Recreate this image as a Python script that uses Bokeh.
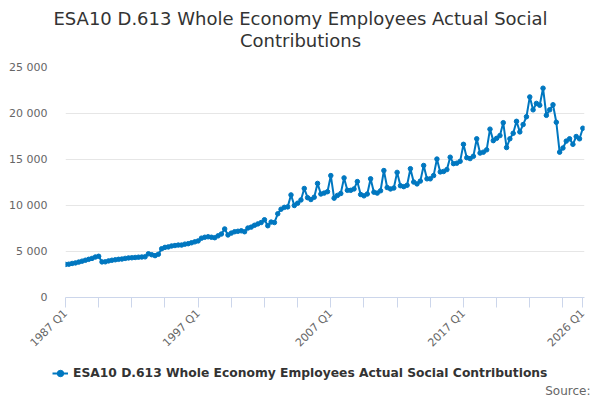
import math
from bokeh.plotting import figure
from bokeh.layouts import column
from bokeh.models import Range1d, FixedTicker, Label, Legend, LegendItem, ColumnDataSource
from bokeh.embed import file_html
from bokeh.resources import INLINE

# ---- data ----
first_year = 1987
n_quarters = 157
quarters = [f"{first_year + i // 4} Q{i % 4 + 1}" for i in range(n_quarters)]

values_1987_1996 = [3600, 3620, 3700, 3760, 3850, 3950, 4050, 4150, 4250, 4400,
                    4480, 3870, 3880, 3980, 4050, 4100, 4150, 4180, 4250, 4300,
                    4320, 4350, 4380, 4400, 4420, 4750, 4650, 4550, 4700, 5300,
                    5450, 5500, 5600, 5650, 5700, 5700, 5800, 5850, 5950, 6050]
values_1997_2006 = [6150, 6450, 6550, 6600, 6550, 6500, 6700, 6900, 7450, 6800,
                    7000, 7150, 7200, 7250, 7150, 7550, 7650, 7850, 8000, 8150,
                    8450, 7800, 8200, 8150, 9100, 9600, 9800, 9850, 11150, 10000,
                    10250, 10600, 11850, 10850, 10650, 10900, 12400, 11250, 11350, 11500]
values_2007_2016 = [13250, 10800, 11100, 11300, 13000, 11650, 11650, 11800, 12600, 11200,
                    11050, 11250, 12900, 11450, 11350, 11600, 13800, 11950, 11800, 11900,
                    13600, 12150, 12050, 12200, 14000, 12550, 12350, 12650, 14350, 12900,
                    12900, 13250, 15050, 13650, 13700, 13900, 15250, 14550, 14600, 14800]
values_2017_2026 = [16650, 15200, 15100, 15350, 17250, 15700, 15800, 16050, 18300, 17050,
                    17300, 17600, 19000, 16300, 17250, 17850, 19150, 18000, 18800, 19650,
                    21800, 20400, 21100, 20900, 22750, 19800, 20400, 20950, 19050, 15800,
                    16250, 17000, 17250, 16650, 17500, 17250, 18400]
values = values_1987_1996 + values_1997_2006 + values_2007_2016 + values_2017_2026

y_ticks = [0, 5000, 10000, 15000, 20000, 25000]
y_tick_labels = ["0", "5 000", "10 000", "15 000", "20 000", "25 000"]
x_labelled = ["1987 Q1", "1997 Q1", "2007 Q1", "2017 Q1", "2026 Q1"]

title_lines = ["ESA10 D.613 Whole Economy Employees Actual Social", "Contributions"]
series_name = "ESA10 D.613 Whole Economy Employees Actual Social Contributions"
source_text = "Source:"

# ---- styles ----
FONT = "DejaVu Sans"
COLOR = "#0077c0"
W = 600
TH, MH, LH = 52, 305, 43


def blank(height):
    f = figure(width=W, height=height, output_backend="svg", toolbar_location=None,
               title=None, x_range=Range1d(0, W), y_range=Range1d(0, height),
               min_border=0, outline_line_color=None, x_axis_location=None,
               y_axis_location=None, border_fill_color="white",
               background_fill_color="white", frame_align=False)
    f.grid.visible = False
    return f


src = ColumnDataSource(dict(x=list(range(n_quarters)), y=values, q=quarters))

# ---- title strip ----
pt = blank(TH)
for txt, yy in zip(title_lines, [18, 40]):
    pt.add_layout(Label(x=W / 2, y=TH - yy, text=txt, text_align="center",
                        text_baseline="middle", text_font=FONT, text_font_size="18px",
                        text_color="#333333"))

# ---- main chart ----
p = figure(width=W, height=MH, output_backend="svg", toolbar_location=None,
           title=None, frame_align=False,
           x_range=Range1d(0, 156.5), y_range=Range1d(0, 25000),
           min_border_left=65, min_border_right=16, min_border_top=15, min_border_bottom=60,
           outline_line_color=None, background_fill_color="white", border_fill_color="white")

line_r = p.line("x", "y", source=src, line_color=COLOR, line_width=2)
dot_r = p.scatter("x", "y", source=src, size=4.5, fill_color=COLOR, line_color=COLOR)

p.yaxis.ticker = FixedTicker(ticks=y_ticks)
p.yaxis.major_label_overrides = {t: l for t, l in zip(y_ticks, y_tick_labels)}
p.yaxis.axis_line_color = None
p.yaxis.major_tick_line_color = None
p.yaxis.minor_tick_line_color = None
p.yaxis.major_label_standoff = 12
p.yaxis.major_label_text_font = FONT
p.yaxis.major_label_text_font_size = "11px"
p.yaxis.major_label_text_color = "#666666"
p.ygrid.ticker = FixedTicker(ticks=y_ticks)
p.ygrid.grid_line_color = "#e6e6e6"
p.xgrid.grid_line_color = None

x_tick_idx = list(range(0, 151, 10)) + [156]
p.xaxis.ticker = FixedTicker(ticks=x_tick_idx)
p.xaxis.major_label_overrides = {i: (quarters[i] if quarters[i] in x_labelled else "") for i in x_tick_idx}
p.xaxis.axis_line_color = "#ccd6eb"
p.xaxis.major_tick_line_color = "#ccd6eb"
p.xaxis.major_tick_out = 10
p.xaxis.major_tick_in = 0
p.xaxis.minor_tick_line_color = None
p.xaxis.major_label_orientation = math.pi / 4
p.xaxis.major_label_text_font = FONT
p.xaxis.major_label_text_font_size = "11px"
p.xaxis.major_label_text_color = "#666666"
p.xaxis.major_label_standoff = 4

# ---- legend / source strip (series drawn here is far outside this strip's y range) ----
pl = blank(LH)
leg_line = pl.line("x", "y", source=src, line_color=COLOR, line_width=2)
leg_dot = pl.scatter("x", "y", source=src, size=4.5, fill_color=COLOR, line_color=COLOR)
legend = Legend(items=[LegendItem(label=series_name, renderers=[leg_line, leg_dot])],
                location=(52, 19), orientation="horizontal", padding=0, margin=0,
                border_line_color=None, background_fill_alpha=0,
                label_text_font=FONT, label_text_font_size="12.3px",
                label_text_font_style="bold", label_text_color="#333333",
                glyph_width=16, glyph_height=16, label_standoff=5)
pl.add_layout(legend, "center")
pl.add_layout(Label(x=590, y=10, text=source_text, text_align="right",
                    text_baseline="middle", text_font=FONT, text_font_size="12px",
                    text_color="#666666"))

layout = column(pt, p, pl, spacing=0)
open("out.html", "w").write(file_html(layout, INLINE))
